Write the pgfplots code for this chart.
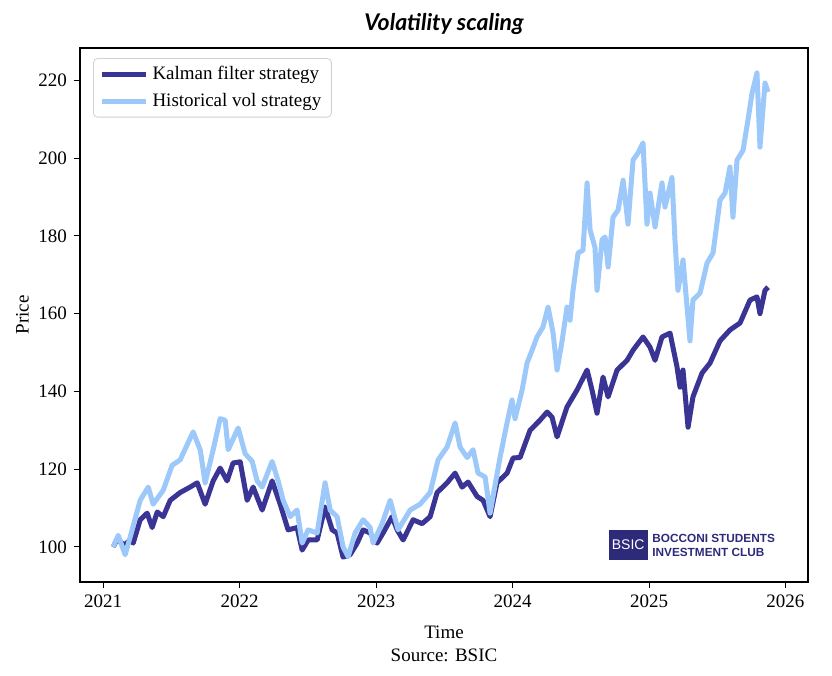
\documentclass[border=0pt]{standalone}
\usepackage{pgfplots}
\pgfplotsset{compat=1.18}
\usepackage{fontspec}
\setmainfont{Liberation Serif}
\newfontfamily\titlefont{Lato}
\newfontfamily\logofont{Liberation Sans}

\definecolor{kalman}{HTML}{3A3494}
\definecolor{histvol}{HTML}{9DC8FA}
\definecolor{bsicnavy}{HTML}{2E2A7A}

\begin{document}
\begin{tikzpicture}
  \begin{axis}[
    scale only axis,
    width=364pt, height=267pt,
    xmin=2020.83, xmax=2026.165,
    ymin=91, ymax=228.3,
    xtick={2021,2022,2023,2024,2025,2026},
    ytick={100,120,140,160,180,200,220},
    /pgf/number format/1000 sep={},
    /pgf/number format/assume math mode=true,
    tick align=outside,
    tick pos=left,
    major tick length=3pt,
    tick style={black, line width=0.5pt},
    axis line style={line width=0.6pt},
    tick label style={font=\fontsize{9.5}{11}\selectfont},
    label style={font=\fontsize{9.5}{11}\selectfont},
    xlabel={Time},
    ylabel={Price},
    xlabel style={yshift=-2pt},
    ylabel style={yshift=-2pt},
    title={\titlefont\bfseries\itshape Volatility scaling},
    title style={font=\fontsize{11.5}{13}\selectfont, yshift=-3pt},
    legend style={at={(0.018,0.981)}, anchor=north west,
      draw=black!18, rounded corners=2pt,
      font=\fontsize{9.5}{11}\selectfont,
      row sep=1pt, inner xsep=3pt, inner ysep=2pt},
    legend cell align=left,
    legend image post style={line width=2.5pt},
    legend image code/.code={\draw[#1] (0pt,0pt) -- (22pt,0pt);},
  ]
    % Kalman filter strategy
    \addplot[kalman, line width=2.5pt, line join=round] coordinates {
      (2021.073,100) (2021.103,102) (2021.154,100.5) (2021.198,101.8)
      (2021.220,101) (2021.271,107) (2021.322,108.7) (2021.359,105)
      (2021.396,109) (2021.440,107.8) (2021.491,112) (2021.564,114)
      (2021.637,115.4) (2021.689,116.5) (2021.747,111) (2021.806,117)
      (2021.857,120.3) (2021.908,117) (2021.952,121.6) (2022.004,121.9)
      (2022.055,112) (2022.099,115.4) (2022.165,109.5) (2022.238,117)
      (2022.297,111) (2022.355,104.4) (2022.421,105) (2022.458,99.2)
      (2022.502,101.8) (2022.568,101.8) (2022.626,110.3) (2022.678,104.4)
      (2022.714,103.6) (2022.758,97.4) (2022.809,98) (2022.861,101)
      (2022.905,104.4) (2022.956,103.6) (2023.007,101) (2023.051,103.6)
      (2023.117,107.8) (2023.154,104.4) (2023.198,101.8) (2023.271,107)
      (2023.337,106) (2023.396,107.8) (2023.447,114) (2023.520,116.5)
      (2023.579,119) (2023.630,115.4) (2023.674,116.7) (2023.740,113)
      (2023.784,112) (2023.835,107.8) (2023.886,116.5) (2023.960,119)
      (2024.004,122.9) (2024.055,123) (2024.128,130) (2024.201,132.6)
      (2024.253,134.7) (2024.289,133.4) (2024.326,128.3) (2024.399,136)
      (2024.473,140.4) (2024.546,145.5) (2024.582,140.4) (2024.619,134.4)
      (2024.663,143.7) (2024.700,138.6) (2024.766,145.5) (2024.839,148)
      (2024.883,150.6) (2024.956,154) (2025.007,151.4) (2025.044,148)
      (2025.095,154) (2025.154,155) (2025.205,146.3) (2025.227,141.1)
      (2025.249,145.5) (2025.286,130.8) (2025.322,138.6) (2025.388,144.7)
      (2025.447,147.3) (2025.520,153) (2025.593,155.8) (2025.667,157.6)
      (2025.740,163.5) (2025.791,164.3) (2025.813,160) (2025.850,166)
      (2025.872,166.8)
    };
    \addlegendentry{Kalman filter strategy}
    % Historical vol strategy
    \addplot[histvol, line width=2.5pt, line join=round] coordinates {
      (2021.073,100) (2021.110,103) (2021.161,98) (2021.212,104.4)
      (2021.271,112) (2021.330,115.4) (2021.366,111) (2021.440,114.6)
      (2021.505,121) (2021.564,122.4) (2021.659,129.6) (2021.711,125)
      (2021.747,116.5) (2021.806,125) (2021.857,133) (2021.894,132.6)
      (2021.916,125) (2021.989,130.6) (2022.040,124) (2022.092,122)
      (2022.128,117) (2022.165,115.4) (2022.238,122) (2022.282,117)
      (2022.319,112) (2022.370,107.8) (2022.421,109.5) (2022.458,101)
      (2022.502,104.4) (2022.568,103.6) (2022.626,116.5) (2022.663,109.5)
      (2022.714,107.8) (2022.758,100) (2022.795,97.5) (2022.846,103.6)
      (2022.905,107) (2022.956,105) (2022.978,101) (2023.044,106)
      (2023.103,112) (2023.161,104.4) (2023.249,109.5) (2023.322,111)
      (2023.396,114) (2023.454,122.4) (2023.520,125.7) (2023.579,131.9)
      (2023.615,125.7) (2023.667,123) (2023.711,125) (2023.747,119)
      (2023.799,118) (2023.835,108.7) (2023.857,113) (2023.908,123)
      (2023.960,132) (2023.996,137.8) (2024.018,133) (2024.070,140.4)
      (2024.106,147.3) (2024.143,150.6) (2024.179,154) (2024.223,156.6)
      (2024.260,161.7) (2024.297,155) (2024.326,145.5) (2024.363,153)
      (2024.399,161.7) (2024.421,158.3) (2024.443,166) (2024.480,175.6)
      (2024.516,176.3) (2024.546,193.6) (2024.568,181.5) (2024.604,177)
      (2024.619,166) (2024.656,179) (2024.678,179.7) (2024.700,172)
      (2024.736,184.8) (2024.773,186.6) (2024.810,194.3) (2024.846,183)
      (2024.883,199.5) (2024.919,201.3) (2024.956,203.9) (2024.985,183)
      (2025.007,191) (2025.044,182.3) (2025.095,193.6) (2025.117,187.4)
      (2025.168,195) (2025.190,179) (2025.212,166) (2025.249,173.8)
      (2025.300,153) (2025.322,163.5) (2025.374,165.3) (2025.425,173)
      (2025.469,175.6) (2025.520,189.2) (2025.557,191) (2025.593,197.7)
      (2025.615,184.8) (2025.645,199.5) (2025.689,202) (2025.725,209.8)
      (2025.755,216.7) (2025.791,221.9) (2025.813,202.8) (2025.850,219.3)
      (2025.872,217)
    };
    \addlegendentry{Historical vol strategy}
    % logo
    \node[fill=bsicnavy, text=white, inner sep=1.5pt, minimum width=17pt,
      minimum height=15pt, font=\logofont\fontsize{7}{8}\selectfont]
      (logo) at (rel axis cs:0.753,0.069) {BSIC};
    \node[anchor=west, inner sep=0pt, align=left, text=bsicnavy,
      font=\logofont\bfseries\fontsize{5.9}{7}\selectfont]
      at ([xshift=2pt]logo.east) {BOCCONI STUDENTS\\INVESTMENT CLUB};
  \end{axis}
  \node[font=\fontsize{9.5}{11}\selectfont, anchor=north]
    at ([yshift=-30pt]current axis.south) {Source: BSIC};
  \pgfresetboundingbox
  \path[use as bounding box] ([xshift=-40pt,yshift=-47pt]current axis.south west)
    rectangle ([xshift=12pt,yshift=24pt]current axis.north east);
\end{tikzpicture}
\end{document}
